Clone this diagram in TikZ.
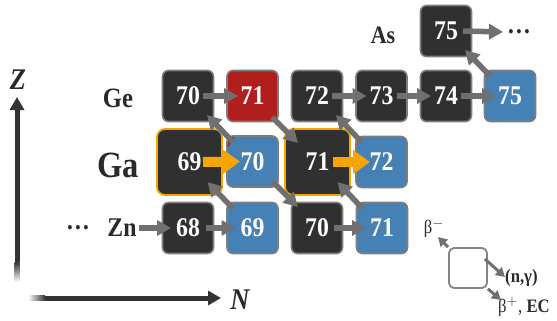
\documentclass[tikz,border=0pt]{standalone}
\usepackage{fontspec}
\setmainfont{Liberation Serif}[FakeStretch=0.88]
\usetikzlibrary{arrows.meta}
\definecolor{dk}{HTML}{303030}
\definecolor{rd}{HTML}{B01E1E}
\definecolor{bl}{HTML}{4581B5}
\definecolor{og}{HTML}{F7A600}
\definecolor{bd}{HTML}{7E7E7E}
\definecolor{ag}{HTML}{707070}
\definecolor{tx}{HTML}{2A2A2A}
\definecolor{ax}{HTML}{333333}
\tikzset{
  nuc/.style={draw=bd, line width=1.6pt, rounded corners=6pt, minimum width=51pt, minimum height=51pt, inner sep=0pt, text=white, font=\fontsize{27}{27}\selectfont\bfseries},
  bignuc/.style={nuc, draw=og, line width=1.8pt, rounded corners=8pt, minimum width=65pt, minimum height=66pt},
  lbl/.style={text=tx, inner sep=0pt},
  garr/.style={draw=ag, line width=5.5pt, -{Triangle[width=15pt,length=14pt]}},
  oarr/.style={draw=og, line width=10pt, -{Triangle[width=23pt,length=17pt]}},
  larr/.style={draw=ag, line width=3pt, -{Triangle[width=10pt,length=9pt]}},
  axarr/.style={draw=ax, line width=5pt, -{Triangle[width=14pt,length=13pt]}}
}
\begin{document}
\begin{tikzpicture}[x=1pt,y=-1pt]
\useasboundingbox (0,0) rectangle (557,321);
% axes
\coordinate (ytail) at (17,262);
\coordinate (ytip) at (17,97);
\coordinate (xtail) at (45,298);
\coordinate (xtip) at (221,298);
\shade[bottom color=white, top color=ax] (14.5,282) rectangle (19.5,262);
\shade[left color=white, right color=ax] (28,295.5) rectangle (45,300.5);
\draw[axarr] (ytail) -- (ytip);
\draw[axarr] (xtail) -- (xtip);
\node[lbl, font=\fontsize{30}{30}\selectfont\bfseries\itshape] (zlab) at (18,80) {Z};
\node[lbl, font=\fontsize{30}{30}\selectfont\bfseries\itshape] (nlab) at (240,300) {N};

% element labels
\node[lbl, font=\fontsize{25}{25}\selectfont\bfseries] (asL) at (383,35) {As};
\node[lbl, font=\fontsize{28}{28}\selectfont\bfseries] (geL) at (118,98) {Ge};
\node[lbl, font=\fontsize{37}{37}\selectfont\bfseries] (gaL) at (118,165) {Ga};
\node[lbl, font=\fontsize{27}{27}\selectfont\bfseries] (znL) at (122,228) {Zn};
\node[lbl, font=\fontsize{27}{27}\selectfont\bfseries] (dotsL) at (78,228) {…};
\node[lbl, font=\fontsize{27}{27}\selectfont\bfseries] (dotsR) at (519,32) {…};

% nuclides
\node[nuc, fill=dk] (as75) at (446,31) {75};
\node[nuc, fill=dk] (ge70) at (188,96) {70};
\node[nuc, fill=rd] (ge71) at (252.5,96) {71};
\node[nuc, fill=dk] (ge72) at (317,96) {72};
\node[nuc, fill=dk] (ge73) at (381.5,96) {73};
\node[nuc, fill=dk] (ge74) at (446,96) {74};
\node[nuc, fill=bl] (ge75) at (510,96) {75};
\node[nuc, fill=bl] (ga70) at (252.5,161.5) {70};
\node[nuc, fill=bl] (ga72) at (381.5,162) {72};
\node[bignuc, fill=dk] (ga69) at (189.5,162) {69};
\node[bignuc, fill=dk] (ga71) at (317.5,162) {71};
\node[nuc, fill=dk] (zn68) at (188,228) {68};
\node[nuc, fill=bl] (zn69) at (252.5,228) {69};
\node[nuc, fill=dk] (zn70) at (317,228) {70};
\node[nuc, fill=bl] (zn71) at (382,228) {71};
\fill[rd] ([shift={(-24.7,-24.7)}]ga70.center) -- ++(7,0) -- ++(-7,11) -- cycle;

% (n,gamma) arrows
\draw[garr] ([xshift=15pt]ge70.center) -- ([xshift=-14.5pt]ge71.center);
\draw[garr] ([xshift=15pt]ge72.center) -- ([xshift=-15pt]ge73.center);
\draw[garr] ([xshift=15pt]ge73.center) -- ([xshift=-15pt]ge74.center);
\draw[garr] ([xshift=15pt]ge74.center) -- ([xshift=-14pt]ge75.center);
\draw[garr] ([xshift=17pt]as75.center) -- ([xshift=-16pt]dotsR.center);
\draw[garr] (znL.east) ++(2,0) -- ([xshift=-17pt]zn68.center);
\draw[garr] ([xshift=18pt]zn68.center) -- ([xshift=-17pt]zn69.center);
\draw[garr] ([xshift=17pt]zn70.center) -- ([xshift=-16pt]zn71.center);
% beta arrows
\draw[garr] ([shift={(-19.5,-19.5)}]ga70.center) -- ([shift={(19,19)}]ge70.center);
\draw[garr] ([shift={(-19.5,-19.5)}]zn69.center) -- ([shift={(18,20)}]ga69.center);
\draw[garr] ([shift={(-19.5,-19.5)}]zn71.center) -- ([shift={(20,20)}]ga71.center);
\draw[garr] ([shift={(-19.5,-19.5)}]ga72.center) -- ([shift={(19,19)}]ge72.center);
\draw[garr] ([shift={(-19.5,-19.5)}]ge75.center) -- ([shift={(19,19)}]as75.center);
\draw[garr] ([shift={(19.5,21)}]ge71.center) -- ([shift={(-19.5,-19)}]ga71.center);
\draw[garr] ([shift={(19.5,19.5)}]ga70.center) -- ([shift={(-19,-21)}]zn70.center);
% orange
\draw[oarr] ([xshift=13.5pt]ga69.center) -- ([xshift=-12.5pt]ga70.center);
\draw[oarr] ([xshift=15.5pt]ga71.center) -- ([xshift=-11.5pt]ga72.center);

% legend
\node[draw=ag!85, line width=1.8pt, rounded corners=5pt, minimum width=38pt, minimum height=40pt, inner sep=0pt] (lg) at (468,268) {};
\coordinate (lgb) at (438,237);
\coordinate (lgn) at (505,277);
\coordinate (lgp) at (501,300);
\draw[larr] (lg.north west) -- (lgb);
\draw[larr] ([yshift=9pt]lg.east) ++(-3,0) -- (lgn);
\draw[larr] (lg.south east) -- (lgp);
\node[lbl, font=\fontsize{19}{19}\selectfont] (bmL) at (434,228) {β$^-$};
\node[lbl, font=\fontsize{19}{19}\selectfont\bfseries, anchor=west] (ngL) at (505,278) {(n,γ)};
\node[lbl, font=\fontsize{19}{19}\selectfont, anchor=west] (bpL) at (498,307) {β$^+$, \textbf{EC}};
\end{tikzpicture}
\end{document}
